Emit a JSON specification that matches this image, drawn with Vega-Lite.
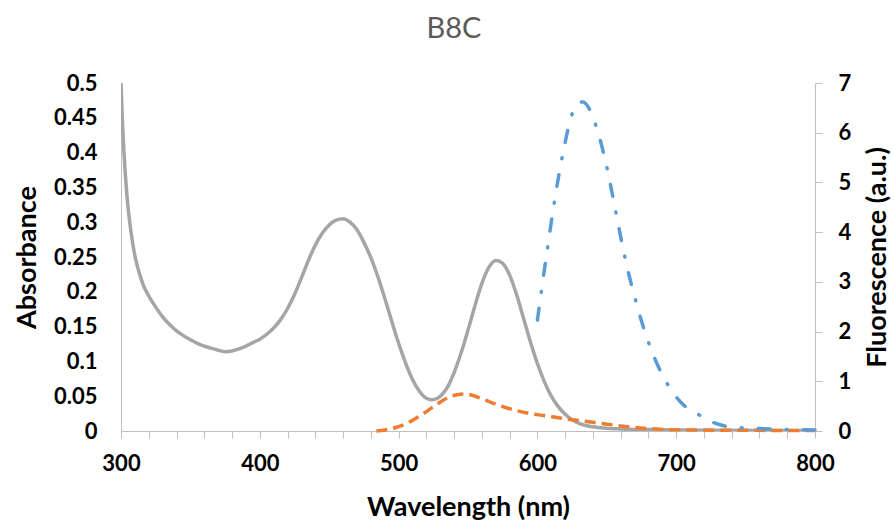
{
  "$schema": "https://vega.github.io/schema/vega-lite/v6.json",
  "autosize": "none",
  "width": 694,
  "height": 348,
  "padding": {"left": 121, "top": 83, "right": 80, "bottom": 92},
  "background": "white",
  "title": {"text": "B8C", "font": "Lato", "fontSize": 29, "fontWeight": "normal", "color": "#595959", "offset": 28, "anchor": "middle", "dx": -14},
  "config": {"view": {"stroke": null}, "axis": {"grid": false, "domainColor": "#BFBFBF", "tickColor": "#BFBFBF", "labelFont": "Lato", "titleFont": "Lato", "labelFontWeight": "bold", "titleFontWeight": "bold", "labelColor": "#000000", "titleColor": "#000000", "labelFontSize": 22, "titleFontSize": 27}},
  "datasets": {
    "abs": [
      {"w": 300, "a": 0.5}, {"w": 301, "a": 0.445}, {"w": 302, "a": 0.405}, {"w": 303, "a": 0.372}, {"w": 304, "a": 0.345}, {"w": 306, "a": 0.305}, {"w": 308, "a": 0.275}, {"w": 310, "a": 0.252}, {"w": 313, "a": 0.228}, {"w": 316, "a": 0.21}, {"w": 320, "a": 0.194}, {"w": 325, "a": 0.178}, {"w": 330, "a": 0.164}, {"w": 335, "a": 0.153}, {"w": 340, "a": 0.144}, {"w": 345, "a": 0.137}, {"w": 350, "a": 0.131}, {"w": 355, "a": 0.126}, {"w": 360, "a": 0.122}, {"w": 365, "a": 0.119}, {"w": 370, "a": 0.116}, {"w": 375, "a": 0.114}, {"w": 380, "a": 0.115}, {"w": 385, "a": 0.118}, {"w": 390, "a": 0.122}, {"w": 395, "a": 0.127}, {"w": 400, "a": 0.132}, {"w": 405, "a": 0.139}, {"w": 410, "a": 0.148}, {"w": 415, "a": 0.16}, {"w": 420, "a": 0.176}, {"w": 425, "a": 0.196}, {"w": 430, "a": 0.22}, {"w": 435, "a": 0.245}, {"w": 440, "a": 0.267}, {"w": 445, "a": 0.284}, {"w": 450, "a": 0.296}, {"w": 455, "a": 0.303}, {"w": 460, "a": 0.305}, {"w": 465, "a": 0.3}, {"w": 470, "a": 0.289}, {"w": 475, "a": 0.271}, {"w": 480, "a": 0.249}, {"w": 485, "a": 0.222}, {"w": 490, "a": 0.191}, {"w": 495, "a": 0.158}, {"w": 500, "a": 0.126}, {"w": 505, "a": 0.098}, {"w": 510, "a": 0.074}, {"w": 515, "a": 0.057}, {"w": 520, "a": 0.047}, {"w": 524, "a": 0.045}, {"w": 528, "a": 0.047}, {"w": 532, "a": 0.054}, {"w": 536, "a": 0.066}, {"w": 540, "a": 0.084}, {"w": 545, "a": 0.112}, {"w": 550, "a": 0.145}, {"w": 555, "a": 0.18}, {"w": 560, "a": 0.212}, {"w": 565, "a": 0.235}, {"w": 570, "a": 0.245}, {"w": 575, "a": 0.241}, {"w": 580, "a": 0.224}, {"w": 585, "a": 0.196}, {"w": 590, "a": 0.162}, {"w": 595, "a": 0.128}, {"w": 600, "a": 0.097}, {"w": 605, "a": 0.071}, {"w": 610, "a": 0.05}, {"w": 615, "a": 0.035}, {"w": 620, "a": 0.024}, {"w": 625, "a": 0.016}, {"w": 630, "a": 0.011}, {"w": 640, "a": 0.006}, {"w": 650, "a": 0.004}, {"w": 660, "a": 0.003}, {"w": 680, "a": 0.002}, {"w": 720, "a": 0.001}, {"w": 800, "a": 0.0005}
    ],
    "exc": [
      {"w": 484, "f": 0}, {"w": 490, "f": 0.02}, {"w": 498, "f": 0.07}, {"w": 505, "f": 0.14}, {"w": 511, "f": 0.23}, {"w": 518, "f": 0.35}, {"w": 525, "f": 0.49}, {"w": 531, "f": 0.6}, {"w": 537, "f": 0.69}, {"w": 542, "f": 0.73}, {"w": 547, "f": 0.745}, {"w": 553, "f": 0.72}, {"w": 560, "f": 0.65}, {"w": 567, "f": 0.57}, {"w": 575, "f": 0.49}, {"w": 585, "f": 0.41}, {"w": 595, "f": 0.35}, {"w": 605, "f": 0.31}, {"w": 620, "f": 0.245}, {"w": 640, "f": 0.175}, {"w": 655, "f": 0.12}, {"w": 670, "f": 0.07}, {"w": 688, "f": 0.035}, {"w": 710, "f": 0.02}, {"w": 740, "f": 0.015}, {"w": 770, "f": 0.012}, {"w": 800, "f": 0.01}
    ],
    "em": [
      {"w": 600, "f": 2.23}, {"w": 603, "f": 2.84}, {"w": 607.6, "f": 3.74}, {"w": 612.7, "f": 4.69}, {"w": 618.4, "f": 5.59}, {"w": 625.6, "f": 6.42}, {"w": 630, "f": 6.6}, {"w": 633, "f": 6.62}, {"w": 637, "f": 6.5}, {"w": 641.5, "f": 6.2}, {"w": 650, "f": 5.31}, {"w": 656.6, "f": 4.39}, {"w": 663, "f": 3.5}, {"w": 671, "f": 2.6}, {"w": 681, "f": 1.71}, {"w": 694, "f": 0.93}, {"w": 704, "f": 0.56}, {"w": 715.6, "f": 0.34}, {"w": 726, "f": 0.18}, {"w": 735, "f": 0.1}, {"w": 743.5, "f": 0.07}, {"w": 760, "f": 0.05}, {"w": 780, "f": 0.03}, {"w": 800, "f": 0.02}
    ]
  },
  "encoding": {
    "x": {"field": "w", "type": "quantitative", "scale": {"domain": [300, 800], "nice": false, "zero": false},
      "axis": {"title": "Wavelength (nm)", "values": [300, 320, 340, 360, 380, 400, 420, 440, 460, 480, 500, 520, 540, 560, 580, 600, 620, 640, 660, 680, 700, 720, 740, 760, 780, 800], "labelExpr": "datum.value % 100 === 0 ? datum.label : ''", "tickSize": 7, "labelPadding": 15, "titlePadding": 20, "labelFlush": false, "labelOverlap": false}}
  },
  "layer": [
    {
      "data": {"name": "abs"},
      "mark": {"type": "line", "color": "#A5A5A5", "strokeWidth": 3.5, "interpolate": "monotone", "clip": true},
      "encoding": {
        "y": {"field": "a", "type": "quantitative", "scale": {"domain": [0, 0.5], "nice": false},
          "axis": {"title": "Absorbance", "format": "~g", "values": [0, 0.05, 0.1, 0.15, 0.2, 0.25, 0.3, 0.35, 0.4, 0.45, 0.5], "ticks": false, "labelPadding": 24, "titlePadding": 12, "labelFlush": false, "labelOverlap": false}}
      }
    },
    {
      "encoding": {
        "y": {"field": "f", "type": "quantitative", "scale": {"domain": [0, 7], "nice": false},
          "axis": {"orient": "right", "title": "Fluorescence (a.u.)", "titleAngle": 270, "titleBaseline": "top", "values": [0, 1, 2, 3, 4, 5, 6, 7], "tickSize": 7, "labelPadding": 16, "titlePadding": 14, "labelFlush": false, "labelOverlap": false}}
      },
      "layer": [
        {
          "data": {"name": "exc"},
          "mark": {"type": "line", "color": "#ED7D31", "strokeWidth": 3.5, "strokeDash": [11, 6], "interpolate": "monotone"}
        },
        {
          "data": {"name": "em"},
          "mark": {"type": "line", "color": "#5B9BD5", "strokeWidth": 3.5, "strokeDash": [12, 16, 1, 16], "strokeCap": "round", "interpolate": "monotone"}
        }
      ]
    }
  ],
  "resolve": {"scale": {"y": "independent"}}
}
